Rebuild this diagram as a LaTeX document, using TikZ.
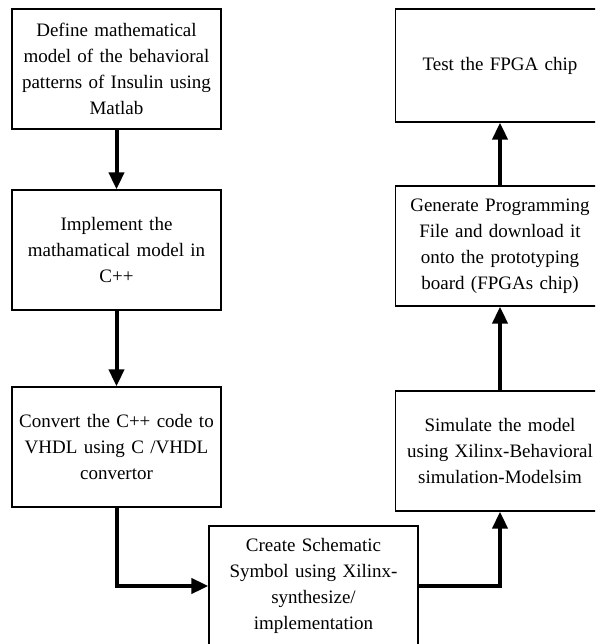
\documentclass[tikz,border=0pt]{standalone}
\usepackage{fontspec}
\setmainfont{Liberation Serif}
\usetikzlibrary{arrows.meta}

\tikzset{
  stepbox/.style={draw, line width=1.3pt, minimum width=209pt, minimum height=120pt,
    text width=200pt, align=center, inner sep=0pt,
    font=\fontsize{19}{26}\selectfont},
  flow/.style={line width=4pt, -{Triangle[length=17pt,width=15pt]}}
}

\begin{document}
\begin{tikzpicture}[x=1pt,y=-1pt]
\useasboundingbox (0,0) rectangle (595,644);
\clip (0,0) rectangle (595,644);

% left column
\node[stepbox] (define) at (116.5,69) {Define mathematical\\model of the behavioral\\patterns of Insulin using\\Matlab};
\node[stepbox] (implement) at (116.5,250) {Implement the\\mathamatical model in\\C++};
\node[stepbox] (convert) at (116.5,447) {Convert the C++ code to\\VHDL using C /VHDL\\convertor};

% bottom
\node[stepbox] (schematic) at (313.5,586) {Create Schematic\\Symbol using Xilinx-\\synthesize/\\implementation};

% right column
\node[stepbox] (simulate) at (500,451) {Simulate the model\\using Xilinx-Behavioral\\simulation-Modelsim};
\node[stepbox] (generate) at (500,246) {Generate Programming\\File and download it\\onto the prototyping\\board (FPGAs chip)};
\node[stepbox, minimum height=113pt] (test) at (500,65.5) {Test the FPGA chip};

\draw[flow] (define) -- (implement);
\draw[flow] (implement) -- (convert);
\draw[flow] (convert.south) |- (schematic.west);
\draw[flow] (schematic.east) -| (simulate.south);
\draw[flow] (simulate) -- (generate);
\draw[flow] (generate) -- (test);
\end{tikzpicture}
\end{document}
